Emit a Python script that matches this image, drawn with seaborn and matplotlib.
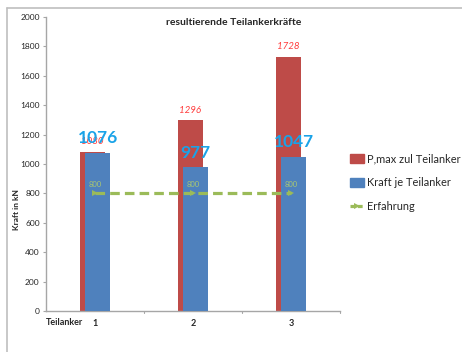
import matplotlib
matplotlib.use("Agg")
import matplotlib.pyplot as plt
import matplotlib.lines as mlines
import matplotlib.patches as mpatches
import seaborn as sns
import pandas as pd

# Data
teilanker = ["1", "2", "3"]
p_max_zul = [1080, 1296, 1728]
kraft_je = [1076, 977, 1047]
erfahrung = [800, 800, 800]

RED = "#BE4B48"
BLUE = "#4F81BD"
GREEN = "#9BBB59"
GRID = "#A6A6A6"

sns.set_theme(style="white")
plt.rcParams["font.family"] = ["Lato", "DejaVu Sans"]

df = pd.DataFrame({"Teilanker": teilanker, "pmax": p_max_zul,
                   "kraft": kraft_je, "erf": erfahrung})

fig = plt.figure(figsize=(4.62, 3.52), dpi=100)
ax = fig.add_axes([0.0996, 0.1165, 0.6364, 0.8352])

bar_w = 0.255
shift = 0.026

sns.barplot(data=df, x="Teilanker", y="pmax", color=RED, width=bar_w,
            saturation=1, ax=ax, zorder=2)
n_red = len(ax.patches)
sns.barplot(data=df, x="Teilanker", y="kraft", color=BLUE, width=bar_w,
            saturation=1, ax=ax, zorder=3)
for i, p in enumerate(ax.patches):
    p.set_linewidth(0)
    p.set_x(p.get_x() + (-shift if i < n_red else shift))

pos = list(range(len(teilanker)))
sns.lineplot(x=pos, y=erfahrung, ax=ax, color=GREEN, lw=2.3,
             linestyle=(0, (3, 1.6)), marker=">", markersize=4,
             markeredgewidth=0, zorder=4)

# Value labels
for i in pos:
    ax.text(i - shift, p_max_zul[i] + 40, f"{p_max_zul[i]}", color="#FF3B3B",
            fontsize=7, style="italic", ha="center", va="bottom", zorder=5)
    ax.text(i + shift, kraft_je[i] + 45, f"{kraft_je[i]}", color="#1AA3E8",
            fontsize=12.5, fontweight="bold", ha="center", va="bottom", zorder=6)
    ax.text(i, erfahrung[i] + 40, f"{erfahrung[i]}", color="#A9C772",
            fontsize=5.5, ha="center", va="bottom", zorder=5)

ax.set_xlim(-0.5, 2.5)
ax.set_ylim(0, 2000)
ax.set_yticks(range(0, 2001, 200))
ax.tick_params(axis="y", labelsize=6, length=2.5, width=0.8, color=GRID,
               pad=2, direction="out", left=True)
ax.set_xticks(pos)
ax.set_xticklabels(teilanker)
ax.tick_params(axis="x", labelsize=6.5, length=0, pad=6)
# category boundary ticks on the x axis
for b in [0.5, 1.5, 2.5]:
    ax.plot([b, b], [0, -12], color=GRID, lw=0.8, clip_on=False)
for lbl in ax.get_xticklabels():
    lbl.set_fontweight("bold")

for s in ["top", "right"]:
    ax.spines[s].set_visible(False)
for s in ["left", "bottom"]:
    ax.spines[s].set_color(GRID)
    ax.spines[s].set_linewidth(1)

ax.set_xlabel("")
ax.set_ylabel("Kraft in kN", fontsize=6, fontweight="bold", labelpad=8)
ax.yaxis.set_label_coords(-0.09, 0.345)
ax.text(0.0, -0.025, "Teilanker", transform=ax.transAxes, fontsize=6.5,
        fontweight="bold", ha="left", va="top")
ax.set_title("resultierende Teilankerkräfte", fontsize=7.5, fontweight="bold",
             pad=-6, x=0.64)

# Legend
handles = [
    mpatches.Patch(color=RED, label="P,max zul Teilanker"),
    mpatches.Patch(color=BLUE, label="Kraft je Teilanker"),
    mlines.Line2D([], [], color=GREEN, lw=2.3, linestyle=(0, (1.5, 0.8)),
                  marker=">", markersize=4, markeredgewidth=0,
                  label="Erfahrung"),
]
fig.legend(handles=handles, loc="upper left", bbox_to_anchor=(0.748, 0.578),
           frameon=False, fontsize=7.9, handlelength=1.3, handleheight=0.9,
           handletextpad=0.25, labelspacing=1.2, borderaxespad=0)

# Chart border (top and left edges)
fig.add_artist(mlines.Line2D([0.015, 1.0], [0.977, 0.977], color="#BFBFBF",
                             lw=1.2, transform=fig.transFigure))
fig.add_artist(mlines.Line2D([0.015, 0.015], [0.0, 0.977], color="#BFBFBF",
                             lw=1.2, transform=fig.transFigure))

fig.savefig("out.png", dpi=100)
